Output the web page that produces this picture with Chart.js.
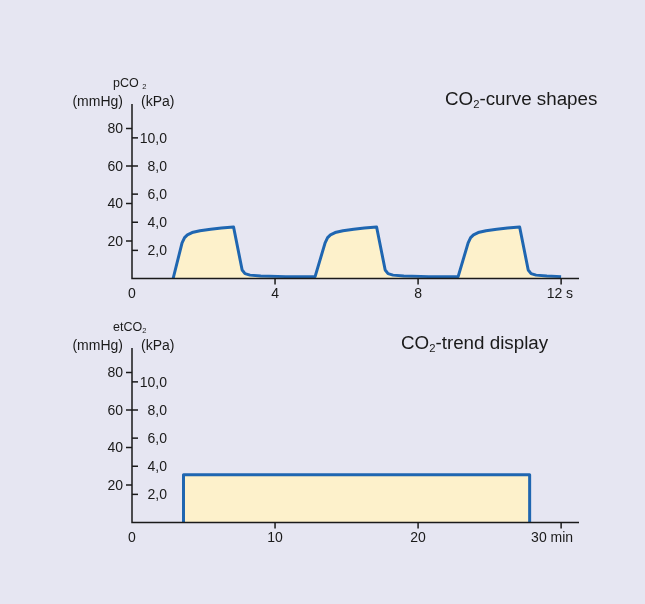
<!DOCTYPE html>
<html>
<head>
<meta charset="utf-8">
<script src="https://cdn.jsdelivr.net/npm/chart.js@4.4.0/dist/chart.umd.min.js"></script>
<style>
  html, body { margin: 0; padding: 0; background: #fff; }
  #wrap { position: relative; width: 645px; height: 604px; background: #e6e6f2; }
  canvas { position: absolute; left: 0; }
</style>
</head>
<body>
<div id="wrap">
  <canvas id="curveChart" width="645" height="310" style="top:0px"></canvas>
  <canvas id="trendChart" width="645" height="294" style="top:310px"></canvas>
</div>
<script>
// capnogram, seconds vs mmHg
var curveTime = [1.15, 1.40, 1.47, 1.55, 1.68, 1.90, 2.20, 2.50, 2.84, 3.08, 3.16, 3.30, 3.60, 4.30, 5.12,
                 5.40, 5.47, 5.55, 5.68, 5.90, 6.20, 6.50, 6.84, 7.08, 7.16, 7.30, 7.60, 8.30, 9.12,
                 9.40, 9.47, 9.55, 9.68, 9.90, 10.20, 10.50, 10.84, 11.08, 11.16, 11.30, 11.60, 12.00];
var curveCO2 = [0, 19, 21.8, 23.3, 24.5, 25.5, 26.3, 26.9, 27.5, 4.5, 2.6, 1.8, 1.3, 1.0, 1.0,
                19, 21.8, 23.3, 24.5, 25.5, 26.3, 26.9, 27.5, 4.5, 2.6, 1.8, 1.3, 1.0, 1.0,
                19, 21.8, 23.3, 24.5, 25.5, 26.3, 26.9, 27.5, 4.5, 2.6, 1.8, 1.3, 1.0];

// trend, minutes vs mmHg
var trendTime = [3.6, 3.6, 27.8, 27.8];
var trendCO2 = [0, 25.5, 25.5, 0];

var curveTicks = [0, 4, 8, 12];
var trendTicks = [0, 10, 20, 30];
var mmHgTicks = [20, 40, 60, 80];
var kPaTicks = [2, 4, 6, 8, 10];

var FONT = '"Liberation Sans", Arial, Helvetica, sans-serif';
var INK = '#1a1a1a';
var BLUE = '#1f66b1';
var FILL = '#fdf1cb';

function toPoints(xs, ys) {
    var pts = [];
    for (var i = 0; i < xs.length; i++) pts.push({ x: xs[i], y: ys[i] });
    return pts;
}

// draws text pieces, second item true = subscript
function drawRich(ctx, x, y, pieces, size, align) {
    var total = 0;
    pieces.forEach(function(p) {
        ctx.font = (p[1] ? size * 0.6 : size) + 'px ' + FONT;
        total += ctx.measureText(p[0]).width;
    });
    if (align === 'right') x -= total;
    ctx.textAlign = 'left';
    ctx.textBaseline = 'alphabetic';
    pieces.forEach(function(p) {
        var s = p[1] ? size * 0.6 : size;
        ctx.font = s + 'px ' + FONT;
        ctx.fillText(p[0], x, y + (p[1] ? size * 0.18 : 0));
        x += ctx.measureText(p[0]).width;
    });
}

function makeAxes(cfg) {
    return {
        id: 'co2Axes',
        afterDatasetsDraw: function(chart) {
            var ctx = chart.ctx;
            var xs = chart.scales.x, ys = chart.scales.y, ks = chart.scales.kpa;
            var area = chart.chartArea;
            var x0 = xs.getPixelForValue(0), y0 = ys.getPixelForValue(0);
            ctx.save();
            ctx.strokeStyle = INK;
            ctx.fillStyle = INK;
            ctx.lineWidth = 1.5;

            ctx.beginPath();
            ctx.moveTo(x0, area.top - 2);
            ctx.lineTo(x0, y0);
            ctx.lineTo(area.right, y0);
            ctx.stroke();

            // mmHg ticks on the left
            ctx.font = '14px ' + FONT;
            ctx.textAlign = 'right';
            ctx.textBaseline = 'middle';
            mmHgTicks.forEach(function(v) {
                var py = ys.getPixelForValue(v);
                ctx.beginPath();
                ctx.moveTo(x0 - 6, py);
                ctx.lineTo(x0, py);
                ctx.stroke();
                ctx.fillText(String(v), x0 - 9, py + 1);
            });
            // kPa ticks on the right
            kPaTicks.forEach(function(v) {
                var py = ks.getPixelForValue(v);
                ctx.beginPath();
                ctx.moveTo(x0, py);
                ctx.lineTo(x0 + 6, py);
                ctx.stroke();
                ctx.fillText(v.toFixed(1).replace('.', ','), x0 + 35, py + 1);
            });

            // time ticks
            ctx.textAlign = 'center';
            cfg.xTicks.forEach(function(v, i) {
                var px = xs.getPixelForValue(v);
                if (v !== 0) {
                    ctx.beginPath();
                    ctx.moveTo(px, y0);
                    ctx.lineTo(px, y0 + 6);
                    ctx.stroke();
                }
                if (i === cfg.xTicks.length - 1) {
                    ctx.textAlign = 'right';
                    ctx.fillText(v + ' ' + cfg.unit, px + 12, y0 + 16);
                } else {
                    ctx.fillText(String(v), px, y0 + 16);
                }
            });

            // axis names
            ctx.textAlign = 'right';
            ctx.fillText('(mmHg)', x0 - 9, area.top - 4);
            ctx.textAlign = 'left';
            ctx.fillText('(kPa)', x0 + 9, area.top - 4);
            drawRich(ctx, x0 - 19, area.top - 19, cfg.quantity, 12.5, 'left');

            drawRich(ctx, cfg.titleX, cfg.titleY, cfg.title, 18.8, 'left');
            ctx.restore();
        }
    };
}

function makeChart(id, points, xMax, yMax, cfg) {
    var ctx = document.getElementById(id).getContext('2d');
    return new Chart(ctx, {
        type: 'line',
        data: {
            datasets: [{
                data: points,
                borderColor: BLUE,
                backgroundColor: FILL,
                borderWidth: 3,
                borderJoinStyle: 'round',
                fill: 'origin',
                pointRadius: 0,
                tension: 0
            }]
        },
        options: {
            responsive: false,
            animation: false,
            layout: { padding: cfg.padding },
            scales: {
                x: { type: 'linear', min: 0, max: xMax, display: false },
                y: { type: 'linear', min: 0, max: yMax, display: false },
                kpa: { type: 'linear', axis: 'y', min: 0, max: yMax / 7.5, display: false }
            },
            plugins: {
                legend: { display: false },
                tooltip: { enabled: false }
            }
        },
        plugins: [makeAxes(cfg)]
    });
}

makeChart('curveChart', toPoints(curveTime, curveCO2), 12.5, 92, {
    padding: { left: 132, right: 66, top: 106, bottom: 31.5 },
    xTicks: curveTicks,
    unit: 's',
    quantity: [['pCO ', false], ['2', true]],
    title: [['CO', false], ['2', true], ['-curve shapes', false]],
    titleX: 445,
    titleY: 105
});

makeChart('trendChart', toPoints(trendTime, trendCO2), 31.25, 92, {
    padding: { left: 132, right: 66, top: 40, bottom: 81.5 },
    xTicks: trendTicks,
    unit: 'min',
    quantity: [['etCO', false], ['2', true]],
    title: [['CO', false], ['2', true], ['-trend display', false]],
    titleX: 401,
    titleY: 39
});
</script>
</body>
</html>
